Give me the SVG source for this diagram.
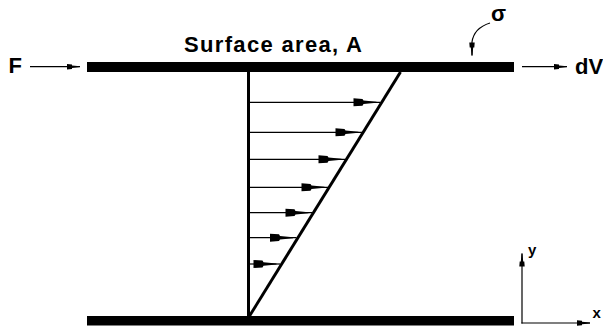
<svg xmlns="http://www.w3.org/2000/svg" width="603" height="328" viewBox="0 0 603 328">
  <style>
    .lbl { font-family: "Liberation Sans", Arial, sans-serif; font-weight: bold; fill: #000; }
    .plate { fill: #000; }
    .thick { stroke: #000; stroke-width: 3; fill: none; }
    .vel { stroke: #000; stroke-width: 1.2; fill: none; marker-end: url(#bigHead); }
    .thin { stroke: #000; stroke-width: 1.2; fill: none; marker-end: url(#smallHead); }
  </style>
  <defs>
    <marker id="bigHead" viewBox="-24 -4.5 28 9" markerWidth="28" markerHeight="9" refX="3.5" refY="0" orient="auto" markerUnits="userSpaceOnUse">
      <path d="M-23,-4 L-14,-3.4 L-13,-1.7 L0,-0.5 L0,0.5 L-13,1.7 L-14,3.4 L-23,4 Z" fill="#000"/>
    </marker>
    <marker id="smallHead" viewBox="-14 -3 15 6" markerWidth="15" markerHeight="6" refX="0" refY="0" orient="auto" markerUnits="userSpaceOnUse">
      <path d="M-13,-2.7 L-8,-2.3 L-8,-1.2 L0,-0.4 L0,0.4 L-8,1.2 L-8,2.3 L-13,2.7 Z" fill="#000"/>
    </marker>
  </defs>

  <g id="top-plate">
    <rect class="plate" x="87" y="62" width="427" height="10"/>
  </g>
  <g id="bottom-plate">
    <rect class="plate" x="87" y="316" width="427" height="9.5"/>
  </g>
  <g id="surface-label">
    <text class="lbl" x="184" y="51.7" font-size="22" textLength="178" lengthAdjust="spacing">Surface area, A</text>
  </g>
  <g id="force-label">
    <text class="lbl" x="8.5" y="72.5" font-size="22">F</text>
  </g>
  <g id="dv-label">
    <text class="lbl" x="575" y="74" font-size="22">dV</text>
  </g>
  <g id="sigma-label">
    <text class="lbl" x="491" y="20.5" font-size="22">σ</text>
  </g>
  <g id="profile">
    <line class="thick" x1="248.5" y1="72" x2="248.5" y2="316"/>
    <line class="thick" x1="249.5" y1="316" x2="400.5" y2="72"/>
  </g>
  <g id="axes">
    <path class="thin" d="M522,323.5 L522,253.5"/>
    <path class="thin" d="M521.4,323 L590,323"/>
    <text class="lbl" x="528" y="254.5" font-size="15">y</text>
    <text class="lbl" x="592.5" y="318.3" font-size="15">x</text>
  </g>
  <g id="connectors">
    <path class="thin" d="M30,66.7 L80,66.7"/>
    <path class="thin" d="M522,66.7 L567,66.7"/>
    <path class="thin" d="M490,23 Q474,28 472,42 L472,55.5"/>
    <path class="vel" d="M250,102.3 L380,102.3"/>
    <path class="vel" d="M250,132.3 L362,132.3"/>
    <path class="vel" d="M250,159.3 L345,159.3"/>
    <path class="vel" d="M250,187.3 L328,187.3"/>
    <path class="vel" d="M250,212.7 L312,212.7"/>
    <path class="vel" d="M250,237.7 L296.5,237.7"/>
    <path class="vel" d="M250,264 L280,264"/>
  </g>
</svg>
